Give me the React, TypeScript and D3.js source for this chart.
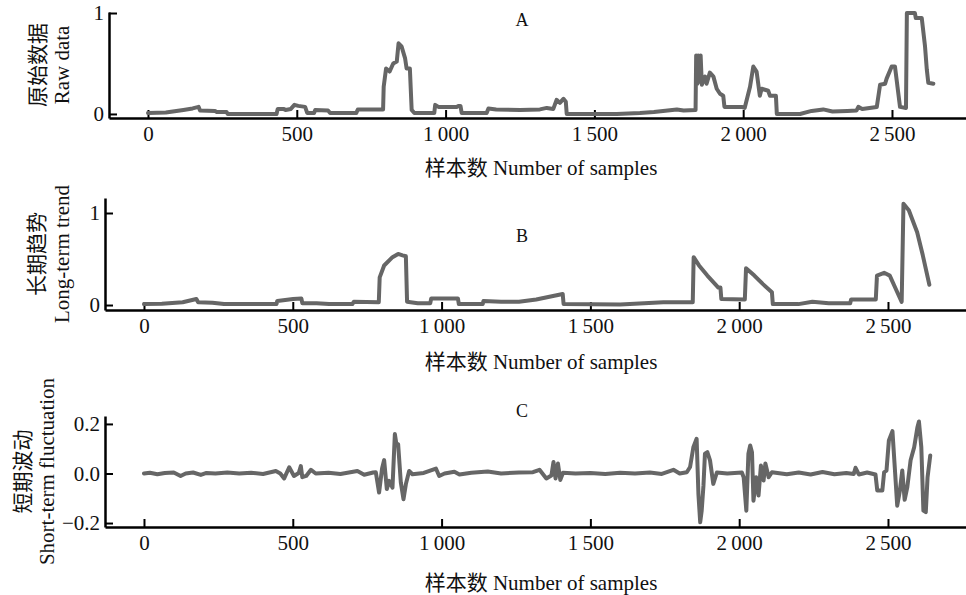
import React, { useEffect, useRef } from 'react';
import * as d3 from 'd3';

// Raw data (A): sample index / normalised value
const rawSamples = [0, 60, 119, 150, 170, 175, 225, 230, 264, 268, 432, 436, 455, 462, 480, 492, 505, 528, 535, 558, 562, 605, 612, 700, 705, 735, 790, 792, 800, 812, 824, 836, 842, 852, 864, 869, 880, 886, 895, 962, 965, 976, 1037, 1043, 1050, 1054, 1138, 1144, 1170, 1250, 1317, 1340, 1362, 1373, 1384, 1396, 1404, 1407, 1575, 1653, 1700, 1777, 1800, 1840, 1842, 1846, 1849, 1853, 1857, 1861, 1872, 1877, 1888, 1900, 1911, 1922, 1933, 1937, 1995, 2005, 2023, 2034, 2045, 2056, 2062, 2084, 2090, 2110, 2113, 2191, 2230, 2269, 2300, 2350, 2381, 2387, 2400, 2449, 2460, 2477, 2482, 2499, 2510, 2527, 2547, 2550, 2577, 2580, 2600, 2611, 2617, 2622, 2639];
const rawValues = [0.01, 0.015, 0.04, 0.055, 0.07, 0.035, 0.03, 0.02, 0.02, 0.0, 0.0, 0.05, 0.05, 0.04, 0.05, 0.09, 0.08, 0.07, 0.01, 0.01, 0.04, 0.035, 0.01, 0.01, 0.045, 0.045, 0.045, 0.27, 0.45, 0.42, 0.5, 0.52, 0.7, 0.67, 0.55, 0.45, 0.45, 0.04, 0.01, 0.01, 0.09, 0.07, 0.07, 0.08, 0.08, 0.01, 0.01, 0.055, 0.045, 0.04, 0.045, 0.06, 0.05, 0.14, 0.11, 0.15, 0.12, 0.0, 0.0, 0.01, 0.02, 0.045, 0.035, 0.04, 0.58, 0.3, 0.58, 0.32, 0.58, 0.29, 0.37, 0.3, 0.41, 0.37, 0.25, 0.2, 0.18, 0.07, 0.07, 0.06, 0.27, 0.47, 0.42, 0.18, 0.25, 0.23, 0.18, 0.18, 0.0, 0.0, 0.03, 0.045, 0.025, 0.03, 0.035, 0.07, 0.05, 0.07, 0.29, 0.3, 0.35, 0.47, 0.47, 0.07, 0.06, 1.0, 1.0, 0.95, 0.95, 0.67, 0.44, 0.31, 0.3];

// Long-term trend (B)
const trendSamples = [0, 60, 130, 176, 182, 230, 269, 445, 448, 501, 529, 532, 580, 622, 700, 705, 789, 792, 807, 835, 854, 869, 880, 884, 920, 962, 965, 1055, 1058, 1138, 1141, 1200, 1260, 1318, 1407, 1410, 1600, 1745, 1844, 1847, 1865, 1893, 1930, 1937, 1940, 2019, 2023, 2051, 2079, 2110, 2113, 2199, 2246, 2301, 2373, 2376, 2459, 2463, 2487, 2506, 2524, 2546, 2552, 2570, 2598, 2617, 2639];
const trendValues = [0.01, 0.015, 0.03, 0.065, 0.03, 0.025, 0.01, 0.01, 0.045, 0.065, 0.07, 0.02, 0.02, 0.01, 0.01, 0.035, 0.03, 0.3, 0.43, 0.52, 0.555, 0.54, 0.53, 0.035, 0.02, 0.02, 0.07, 0.07, 0.01, 0.01, 0.045, 0.035, 0.035, 0.06, 0.12, 0.01, 0.005, 0.03, 0.03, 0.52, 0.43, 0.32, 0.19, 0.19, 0.065, 0.06, 0.4, 0.32, 0.23, 0.14, 0.01, 0.01, 0.035, 0.02, 0.02, 0.06, 0.06, 0.32, 0.35, 0.32, 0.19, 0.035, 1.1, 1.03, 0.79, 0.54, 0.22];

// Short-term fluctuation (C)
const flucSamples = [0, 20, 45, 70, 100, 123, 140, 165, 191, 210, 240, 280, 320, 360, 400, 443, 458, 471, 488, 504, 520, 527, 532, 545, 561, 577, 620, 660, 717, 740, 770, 779, 790, 800, 807, 816, 824, 835, 843, 848, 854, 863, 872, 880, 891, 902, 940, 981, 992, 1010, 1043, 1060, 1100, 1155, 1200, 1260, 1307, 1329, 1352, 1369, 1376, 1383, 1391, 1399, 1408, 1450, 1500, 1550, 1600, 1650, 1700, 1740, 1779, 1800, 1824, 1835, 1846, 1857, 1863, 1869, 1874, 1880, 1885, 1893, 1902, 1913, 1925, 1960, 2009, 2015, 2024, 2031, 2037, 2043, 2048, 2057, 2065, 2073, 2082, 2088, 2099, 2110, 2160, 2200, 2240, 2280, 2320, 2360, 2385, 2391, 2402, 2430, 2458, 2464, 2481, 2487, 2495, 2503, 2515, 2522, 2531, 2540, 2548, 2556, 2565, 2576, 2588, 2599, 2604, 2612, 2619, 2627, 2633, 2642];
const flucValues = [0, 0.003, -0.003, 0.002, 0.004, -0.01, 0.0, 0.004, -0.006, 0.002, 0.0, 0.004, 0.0, 0.003, -0.002, 0.01, 0.0, -0.02, 0.025, -0.01, 0.002, 0.03, -0.015, -0.01, 0.015, 0.0, 0.003, -0.002, 0.01, -0.005, 0.004, 0.005, -0.077, 0.02, 0.054, -0.063, -0.03, -0.057, 0.159, 0.12, 0.118, -0.036, -0.104, -0.043, 0.01, -0.003, 0.002, 0.02, -0.01, 0.0, 0.007, -0.004, 0.003, 0.008, 0.0, 0.004, 0.005, 0.015, -0.02, -0.008, 0.046, -0.02, 0.04, -0.026, 0.003, 0.0, 0.002, -0.002, 0.003, 0.0, 0.004, -0.002, 0.015, 0.0, 0.005, 0.026, 0.106, 0.14, -0.082, -0.197, -0.15, -0.048, 0.08, 0.086, 0.053, -0.042, 0.004, 0.0, 0.004, -0.015, -0.15, 0.08, 0.113, 0.086, -0.11, -0.015, -0.089, 0.032, -0.028, 0.04, -0.015, 0.005, -0.003, 0.004, -0.004, 0.006, -0.003, 0.002, -0.002, 0.023, -0.004, 0.004, -0.004, -0.069, -0.069, 0.005, 0.012, 0.133, 0.171, 0.04, -0.13, -0.069, 0.012, -0.106, -0.055, 0.053, 0.106, 0.187, 0.21, 0.106, -0.15, -0.156, -0.015, 0.073];

const xTicks = [0, 500, 1000, 1500, 2000, 2500];
const xTitle = '样本数 Number of samples';

const W = 966;
const H = 595;
const PX_PER_SAMPLE = 0.2976;
const FONT = "'Liberation Serif', 'Times New Roman', 'Noto Sans CJK SC', serif";
const LINE = '#666666';

const locale = d3.formatLocale({ decimal: '.', thousands: '\u2009', grouping: [3], currency: ['', ''], minus: '\u2212' });

const panels = [
    { xs: rawSamples, ys: rawValues, letter: 'A', left: 109, top: 12, bottom: 118, yDomain: [-0.04, 1.01], yTicks: [0, 1], yFmt: d3.format('d'),
      ylab: ['原始数据', 'Raw data'], labX: [38, 62], titleY: 175, letterY: 26 },
    { xs: trendSamples, ys: trendValues, letter: 'B', left: 105, top: 198, bottom: 310, yDomain: [-0.054, 1.163], yTicks: [0, 1], yFmt: d3.format('d'),
      ylab: ['长期趋势', 'Long-term trend'], labX: [37, 62], titleY: 369, letterY: 242 },
    { xs: flucSamples, ys: flucValues, letter: 'C', left: 105, top: 416, bottom: 527, yDomain: [-0.216, 0.232], yTicks: [-0.2, 0, 0.2], yFmt: locale.format('.1f'),
      ylab: ['短期波动', 'Short-term fluctuation'], labX: [23, 47], titleY: 590, letterY: 417 },
];

export default function App() {
    const ref = useRef<SVGSVGElement>(null);

    useEffect(() => {
        const svg = d3.select(ref.current);
        svg.selectAll('*').remove();

        panels.forEach((p) => {
            const xMax = (W - p.left) / PX_PER_SAMPLE - 131;
            const x = d3.scaleLinear().domain([-131, xMax]).range([p.left, W]);
            const y = d3.scaleLinear().domain(p.yDomain).range([p.bottom, p.top]);

            const g = svg.append('g');

            // x axis, ticks pointing up
            const xa = g.append('g')
                .attr('transform', `translate(0,${p.bottom})`)
                .call(d3.axisBottom(x).tickValues(xTicks).tickSize(-8).tickSizeOuter(0).tickPadding(8)
                    .tickFormat(locale.format(',d') as any));
            // y axis, ticks pointing right
            const ya = g.append('g')
                .attr('transform', `translate(${p.left},0)`)
                .call(d3.axisLeft(y).tickValues(p.yTicks).tickSize(-8).tickSizeOuter(0).tickPadding(5)
                    .tickFormat(p.yFmt as any));

            [xa, ya].forEach((a) => {
                a.select('.domain').attr('stroke', '#000').attr('stroke-width', 2.5);
                a.selectAll('.tick line').attr('stroke', '#000').attr('stroke-width', 2);
                a.selectAll('.tick text').attr('fill', '#111').style('font-family', FONT).style('font-size', '21px');
            });

            // series line
            const pts = p.xs.map((s, i) => [s, p.ys[i]] as [number, number]);
            g.append('path')
                .datum(pts)
                .attr('fill', 'none')
                .attr('stroke', LINE)
                .attr('stroke-width', 4)
                .attr('stroke-linejoin', 'round')
                .attr('stroke-linecap', 'round')
                .attr('d', d3.line<[number, number]>().x((d) => x(d[0])).y((d) => y(d[1])));

            // panel letter
            g.append('text')
                .attr('x', 522).attr('y', p.letterY)
                .attr('text-anchor', 'middle')
                .style('font-family', FONT).style('font-size', '18px').attr('fill', '#111')
                .text(p.letter);

            // axis titles
            g.append('text')
                .attr('x', 541).attr('y', p.titleY)
                .attr('text-anchor', 'middle')
                .style('font-family', FONT).style('font-size', '21px').attr('fill', '#111')
                .text(xTitle);

            const cy = (p.top + p.bottom) / 2;
            p.ylab.forEach((t, i) => {
                g.append('text')
                    .attr('transform', `translate(${p.labX[i]},${cy}) rotate(-90)`)
                    .attr('text-anchor', 'middle')
                    .attr('dominant-baseline', 'central')
                    .style('font-family', FONT).style('font-size', '21px').attr('fill', '#111')
                    .text(t);
            });
        });
    }, []);

    return (
        <svg ref={ref} width={W} height={H}
            style={{ position: 'absolute', left: 0, top: 0, background: '#fff' }} />
    );
}
